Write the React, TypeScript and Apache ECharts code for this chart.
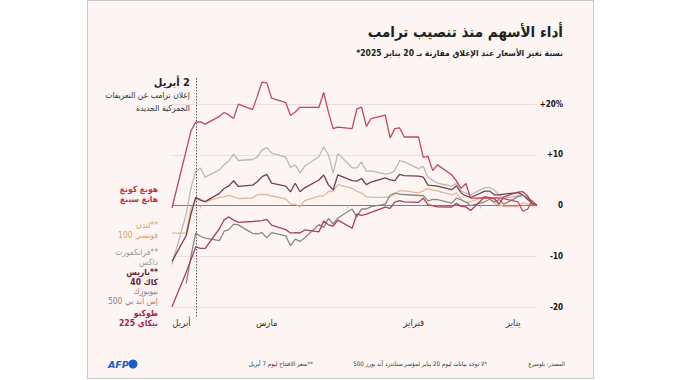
import React, { useEffect, useRef } from 'react';
import * as echarts from 'echarts';

// Trading days, 20 Jan 2025 – 7 Apr 2025 (weekdays)
const dates = [
  '2025-01-20', '2025-01-21', '2025-01-22', '2025-01-23', '2025-01-24',
  '2025-01-27', '2025-01-28', '2025-01-29', '2025-01-30', '2025-01-31',
  '2025-02-03', '2025-02-04', '2025-02-05', '2025-02-06', '2025-02-07',
  '2025-02-10', '2025-02-11', '2025-02-12', '2025-02-13', '2025-02-14',
  '2025-02-17', '2025-02-18', '2025-02-19', '2025-02-20', '2025-02-21',
  '2025-02-24', '2025-02-25', '2025-02-26', '2025-02-27', '2025-02-28',
  '2025-03-03', '2025-03-04', '2025-03-05', '2025-03-06', '2025-03-07',
  '2025-03-10', '2025-03-11', '2025-03-12', '2025-03-13', '2025-03-14',
  '2025-03-17', '2025-03-18', '2025-03-19', '2025-03-20', '2025-03-21',
  '2025-03-24', '2025-03-25', '2025-03-26', '2025-03-27', '2025-03-28',
  '2025-03-31', '2025-04-01', '2025-04-02', '2025-04-03', '2025-04-04',
  '2025-04-07',
];

// % change vs 20 Jan close
const hangSeng = [
  0, 0.91, -0.74, -1.13, 0.7,
  1.36, 1.5, null, null, null,
  1.46, 4.34, 3.37, 4.85, 6.06,
  8.01, 6.87, 9.7, 9.48, 13.52,
  13.5, 15.31, 15.15, 13.31, 17.83,
  17.14, 15.6, 19.38, 19.03, 15.13,
  15.46, 15.14, 18.41, 22.3, 19.36,
  19.35, 19.35, 18.44, 17.75, 20.25,
  21.18, 24.16, 24.32, 21.55, 18.89,
  19.97, 17.16, 17.85, 18.33, 17.57,
  16.03, 16.47, 16.44, 14.67, null,
  -0.49,
];
const ftse100 = [
  0, 0.33, 0.29, 0.52, -0.21,
  -0.2, 0.16, 0.44, 1.48, 1.8,
  0.74, 0.59, 1.21, 2.43, 2.11,
  2.9, 3.01, 3.37, 2.87, 2.49,
  2.9, 2.89, 2.25, 1.67, 1.63,
  1.62, 1.74, 2.48, 2.77, 3.39,
  4.12, 2.81, 2.76, 1.9, 1.87,
  0.94, -0.29, 0.24, 0.26, 1.31,
  1.87, 2.17, 2.18, 2.13, 1.48,
  1.38, 1.68, 1.98, 1.71, 1.62,
  0.73, 1.34, 1.03, -0.54, -5.46,
  -5.46,
];
const dax = [
  0, 0.25, 1.26, 2.01, 1.93,
  1.39, 2.1, 3.08, 3.51, 3.53,
  2.09, 2.46, 2.84, 4.35, 3.8,
  4.39, 4.99, 5.52, 7.73, 7.26,
  8.61, 8.83, 6.88, 6.31, 6.18,
  6.84, 6.76, 8.59, 7.43, 7.44,
  10.27, 6.37, 9.96, 11.57, 9.62,
  7.77, 6.38, 8.03, 7.51, 9.51,
  10.31, 11.39, 10.95, 9.57, 9.06,
  8.87, 10.1, 8.81, 8.04, 7.01,
  5.59, 7.38, 6.67, 3.46, -1.66,
  -11.6,
];
const cac40 = [
  0, 0.5, 1.22, 2.07, 2.53,
  2.26, 2.08, 2.12, 2.84, 2.82,
  1.58, 1.88, 2.46, 3.89, 3.12,
  3.83, 3.92, 4.01, 5.59, 5.77,
  5.9, 6.14, 4.89, 5.05, 5.46,
  4.63, 4.12, 5.32, 4.8, 4.91,
  6.05, 3.09, 4.07, 6.02, 5.03,
  3.48, 2.71, 4.38, 2.67, 3.83,
  4.42, 6.13, 5.69, 4.68, 4.02,
  3.75, 4.88, 3.86, 3.34, 2.38,
  0.76, 1.05, 1.64, -1.72, -5.91,
  -11.0,
];
const sp500 = [
  null, 0.88, 1.5, 2.04, 1.74,
  0.26, 1.18, 0.71, 1.24, 0.73,
  -0.03, 0.69, 1.08, 1.45, 0.49,
  1.16, 1.2, 0.92, 1.97, 1.97,
  null, 2.22, 2.46, 2.02, 0.27,
  -0.22, -0.69, -0.68, -2.25, -0.7,
  -2.45, -3.64, -2.57, -4.3, -3.78,
  -6.37, -7.08, -6.63, -7.92, -5.97,
  -5.36, -6.37, -5.36, -5.57, -5.49,
  -3.82, -3.67, -4.74, -5.06, -6.93,
  -6.42, -6.06, -5.43, -10.01, -15.38,
  null,
];
const nikkei225 = [
  0, 0.32, 1.91, 2.72, 2.65,
  1.71, 0.29, 1.32, 1.57, 1.72,
  -0.98, -0.27, -0.18, 0.42, -0.3,
  -0.26, null, 0.16, 1.44, 0.63,
  0.7, 0.95, 0.67, -0.58, -0.32,
  null, -1.71, -1.95, -1.66, -4.49,
  -2.87, -4.04, -3.81, -3.08, -5.18,
  -4.82, -5.42, -5.35, -5.43, -4.75,
  -3.87, -2.72, -2.96, null, -3.15,
  -3.33, -2.88, -2.25, -2.83, -4.58,
  -8.44, -8.43, -8.17, -10.71, -13.17,
  -19.96,
];

const yTicks = { min: -20, max: 20, interval: 10 };
const monthLabels = ['يناير', 'فبراير', 'مارس', 'أبريل'];
const monthLabelDates = ['2025-01-25', '2025-02-15', '2025-03-18', '2025-04-05'];
const monthTickDates = ['2025-02-01', '2025-03-01', '2025-04-01'];
const axisStart = '2025-01-20';
const axisEnd = '2025-04-07';
const announceDate = '2025-04-02';

const titleText = 'أداء الأسهم منذ تنصيب ترامب';
const subtitleText = 'نسبة تغير الأسعار عند الإغلاق مقارنة بـ 20 يناير 2025*';
const annotTitle = '2 أبريل';
const annotLines = ['إعلان ترامب عن التعريفات', 'الجمركية الجديدة'];
const sourceText = 'المصدر: بلومبرغ';
const note1 = '*لا توجد بيانات ليوم 20 يناير لمؤشر ستاندرد آند بورز 500';
const note2 = '**سعر الافتتاح ليوم 7 أبريل';

const seriesDefs = [
  { key: 'dax', data: dax, color: '#bfb6b6', label: ['فرانكفورت**', 'داكس'], labelColor: '#9c9696', bold: false },
  { key: 'ftse', data: ftse100, color: '#e3b898', label: ['لندن**', 'فوتسي 100'], labelColor: '#d9a06a', bold: false },
  { key: 'cac', data: cac40, color: '#74404b', label: ['باريس**', 'كاك 40'], labelColor: '#6b2331', bold: true },
  { key: 'sp', data: sp500, color: '#8e8585', label: ['نيويورك', 'إس آند بي 500'], labelColor: '#8a8484', bold: false },
  { key: 'nk', data: nikkei225, color: '#a8425c', label: ['طوكيو', 'نيكاي 225'], labelColor: '#a3284c', bold: true },
  { key: 'hs', data: hangSeng, color: '#c0485a', label: ['هونغ كونغ', 'هانغ سينغ'], labelColor: '#c8323f', bold: true },
];
// vertical order of labels on the left (top to bottom)
const labelOrder = ['hs', 'ftse', 'dax', 'cac', 'sp', 'nk'];

const FONT = '"DejaVu Sans Condensed", "DejaVu Sans", sans-serif';
const ts = (d: string) => {
  const [y, m, dd] = d.split('-').map(Number);
  return Date.UTC(y, m - 1, dd);
};
const rtl = (s: string) => '\u202B' + s + '\u202C';

export default function App() {
  const ref = useRef<HTMLDivElement>(null);
  useEffect(() => {
    if (!ref.current) return;
    const chart = echarts.init(ref.current, undefined, { renderer: 'svg' });
    const labelTs = monthLabelDates.map(ts);
    const tickTs = monthTickDates.map(ts);
    const option: any = {
      animation: false,
      backgroundColor: 'transparent',
      grid: { left: 172, right: 143, top: 104, bottom: 73, containLabel: false },
      xAxis: {
        type: 'value',
        inverse: true,
        min: ts(axisStart),
        max: ts(axisEnd),
        axisLine: { show: false },
        splitLine: { show: false },
        axisTick: { show: true, customValues: tickTs, length: 3, lineStyle: { color: '#c8c0bf' } },
        axisLabel: {
          customValues: labelTs,
          margin: 10,
          color: '#333',
          fontSize: 9.5,
          fontFamily: FONT,
          formatter: (v: number) => {
            const i = labelTs.findIndex((t) => Math.abs(t - v) < 43200000);
            return i >= 0 ? monthLabels[i] : '';
          },
        },
      },
      yAxis: {
        type: 'value',
        position: 'right',
        min: yTicks.min,
        max: yTicks.max,
        interval: yTicks.interval,
        axisLine: { show: false },
        axisTick: { show: false },
        splitLine: {
          lineStyle: { color: ['#eadfdc', '#eadfdc', '#7f7f7f', '#eadfdc', '#eadfdc'], width: 1 },
        },
        axisLabel: {
          align: 'right',
          margin: 26,
          color: '#111',
          fontSize: 8,
          fontWeight: 'bold',
          fontFamily: FONT,
          formatter: (v: number) => (v === yTicks.max ? '+' + v + '%' : v > 0 ? '+' + v : String(v)),
        },
      },
      series: seriesDefs.map((s, i) => ({
        type: 'line',
        name: s.key,
        data: dates.map((d, j) => [ts(d), s.data[j]]),
        showSymbol: false,
        symbol: 'none',
        connectNulls: true,
        clip: false,
        z: 3 + i,
        lineStyle: { color: s.color, width: 1.3 },
        itemStyle: { color: s.color },
      })),
    };
    chart.setOption(option);

    const xAnn = Math.round(chart.convertToPixel({ xAxisIndex: 0 }, ts(announceDate)) as number) + 0.5;
    const graphics: any[] = [
      {
        type: 'text', x: 563, y: 32,
        style: { text: rtl(titleText), fill: '#222', font: `bold 15px ${FONT}`, align: 'right', verticalAlign: 'middle' },
      },
      {
        type: 'text', x: 563, y: 53,
        style: { text: rtl(subtitleText), fill: '#222', font: `bold 8.5px ${FONT}`, align: 'right', verticalAlign: 'middle' },
      },
      {
        type: 'text', x: 190, y: 82,
        style: { text: rtl(annotTitle), fill: '#222', font: `bold 11px ${FONT}`, align: 'right', verticalAlign: 'middle' },
      },
      ...annotLines.map((t, i) => ({
        type: 'text', x: 190, y: 95 + i * 12.5,
        style: { text: rtl(t), fill: '#333', font: `8.5px ${FONT}`, align: 'right', verticalAlign: 'middle' },
      })),
      {
        type: 'line', z: 10,
        shape: { x1: xAnn, y1: 78, x2: xAnn, y2: 318 },
        style: { stroke: '#555', lineWidth: 1, lineDash: [1.5, 1.5] },
      },
      {
        type: 'text', x: 565, y: 363,
        style: { text: rtl(sourceText), fill: '#333', font: `6px ${FONT}`, align: 'right', verticalAlign: 'middle' },
      },
      {
        type: 'text', x: 487, y: 363,
        style: { text: rtl(note1), fill: '#333', font: `6.2px ${FONT}`, align: 'right', verticalAlign: 'middle' },
      },
      {
        type: 'text', x: 313, y: 363,
        style: { text: rtl(note2), fill: '#333', font: `6.2px ${FONT}`, align: 'right', verticalAlign: 'middle' },
      },
      {
        type: 'text', x: 108, y: 364,
        style: { text: 'AFP', fill: '#1f5bc4', font: `italic bold 9.5px "DejaVu Sans", sans-serif`, align: 'left', verticalAlign: 'middle' },
      },
      { type: 'circle', shape: { cx: 133, cy: 364, r: 4.5 }, style: { fill: '#1f5bc4' } },
    ];
    const labelTops = [189, 225, 252, 272, 291, 313];
    labelOrder.forEach((k, i) => {
      const s = seriesDefs.find((d) => d.key === k)!;
      s.label.forEach((line, j) => {
        graphics.push({
          type: 'text', x: 158, y: labelTops[i] + j * 10,
          style: {
            text: line.indexOf('**') >= 0 ? line : rtl(line), fill: s.labelColor,
            font: `${s.bold ? 'bold ' : ''}8.5px ${FONT}`, align: 'right', verticalAlign: 'middle',
          },
        });
      });
    });
    chart.setOption({ graphic: graphics });
    return () => chart.dispose();
  }, []);

  return (
    <div style={{ position: 'fixed', left: 0, top: 0, width: 680, height: 380, background: '#fff' }}>
      <div
        style={{
          position: 'absolute', left: 87, top: 0, width: 507, height: 379,
          background: '#fcf5f3', border: '1px solid #cfcaca', boxSizing: 'border-box',
        }}
      />
      <div ref={ref} style={{ position: 'absolute', left: 0, top: 0, width: 680, height: 380 }} />
    </div>
  );
}
